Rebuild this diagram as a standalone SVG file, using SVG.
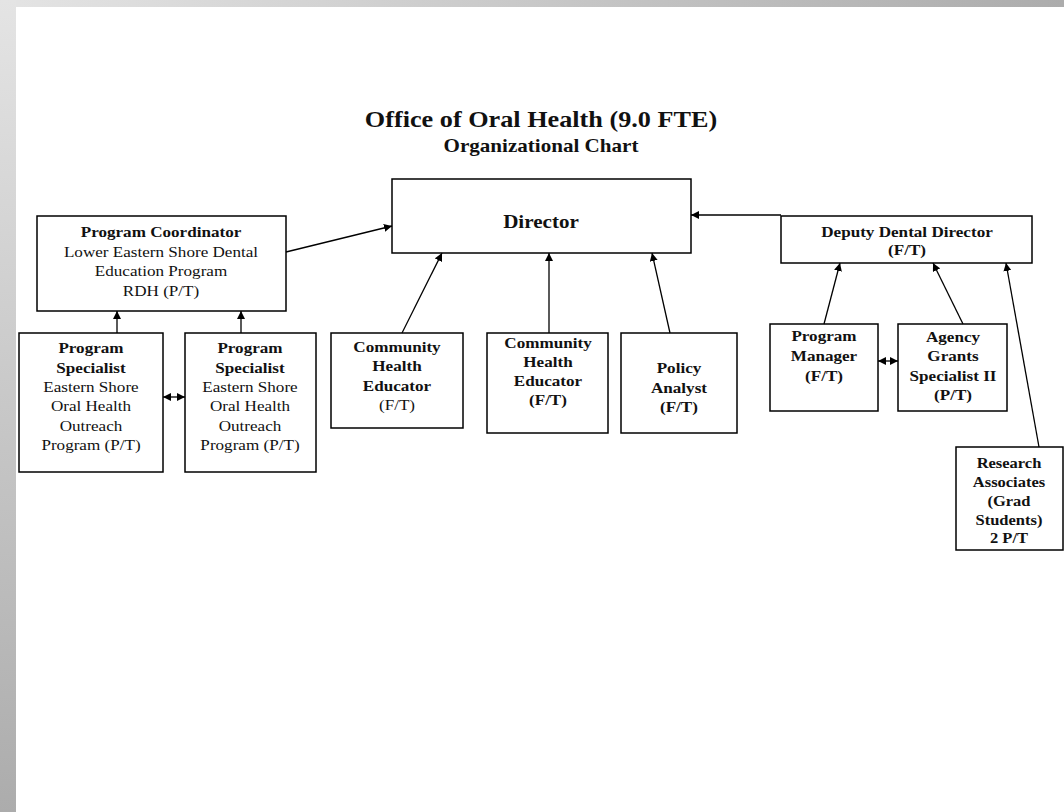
<svg xmlns="http://www.w3.org/2000/svg" width="1064" height="812" viewBox="0 0 1064 812">
<defs>
<linearGradient id="gTop" x1="0" y1="0" x2="1" y2="0"><stop offset="0" stop-color="#e4e4e4"/><stop offset="1" stop-color="#acacac"/></linearGradient>
<linearGradient id="gLeft" x1="0" y1="0" x2="0" y2="1"><stop offset="0" stop-color="#e4e4e4"/><stop offset="1" stop-color="#acacac"/></linearGradient>
<marker id="ah" viewBox="0 0 10 10" refX="10" refY="5" markerWidth="8" markerHeight="8" markerUnits="userSpaceOnUse" orient="auto-start-reverse"><path d="M0,0 L10,5 L0,10 z" fill="#000"/></marker>
<style>
.box{fill:#fff;stroke:#000;stroke-width:1.5}
.t{font-family:"Liberation Serif","Times New Roman",serif;font-size:15px;fill:#111;text-anchor:middle}
.b{font-weight:bold}
.c{stroke:#000;stroke-width:1.3;fill:none}
</style>
</defs>
<rect x="0" y="0" width="1064" height="812" fill="#fff"/>
<rect x="0" y="0" width="1064" height="7" fill="url(#gTop)"/>
<rect x="0" y="0" width="16" height="812" fill="url(#gLeft)"/>

<g id="title" transform="matrix(1.14 0 0 1 -75.74 0)">
<text class="t b" x="541" y="127" style="font-size:23px">Office of Oral Health (9.0 FTE)</text>
<text class="t b" x="541" y="152" style="font-size:18.5px">Organizational Chart</text>
</g>

<g id="director">
<rect class="box" x="392" y="179" width="299" height="74"/>
<g transform="matrix(1.14 0 0 1 -75.74 0)">
<text class="t b" x="541" y="228" style="font-size:18.5px">Director</text>
</g>
</g>

<g id="coordinator">
<rect class="box" x="37" y="216" width="249" height="95"/>
<g transform="matrix(1.14 0 0 1 -22.54 0)">
<text class="t b" x="161" y="237">Program Coordinator</text>
<text class="t" x="161" y="257">Lower Eastern Shore Dental</text>
<text class="t" x="161" y="276">Education Program</text>
<text class="t" x="161" y="296">RDH (P/T)</text>
</g>
</g>

<g id="specialist1">
<rect class="box" x="19" y="333" width="144" height="139"/>
<g transform="matrix(1.14 0 0 1 -12.74 0)">
<text class="t b" x="91" y="353">Program</text>
<text class="t b" x="91" y="373">Specialist</text>
<text class="t" x="91" y="392">Eastern Shore</text>
<text class="t" x="91" y="411">Oral Health</text>
<text class="t" x="91" y="431">Outreach</text>
<text class="t" x="91" y="450">Program (P/T)</text>
</g>
</g>

<g id="specialist2">
<rect class="box" x="185" y="333" width="131" height="139"/>
<g transform="matrix(1.14 0 0 1 -35 0)">
<text class="t b" x="250" y="353">Program</text>
<text class="t b" x="250" y="373">Specialist</text>
<text class="t" x="250" y="392">Eastern Shore</text>
<text class="t" x="250" y="411">Oral Health</text>
<text class="t" x="250" y="431">Outreach</text>
<text class="t" x="250" y="450">Program (P/T)</text>
</g>
</g>

<g id="che1">
<rect class="box" x="331" y="333" width="132" height="95"/>
<g transform="matrix(1.14 0 0 1 -55.58 0)">
<text class="t b" x="397" y="352">Community</text>
<text class="t b" x="397" y="371">Health</text>
<text class="t b" x="397" y="391">Educator</text>
<text class="t" x="397" y="410">(F/T)</text>
</g>
</g>

<g id="che2">
<rect class="box" x="487" y="333" width="121" height="100"/>
<g transform="matrix(1.14 0 0 1 -76.72 0)">
<text class="t b" x="548" y="348">Community</text>
<text class="t b" x="548" y="367">Health</text>
<text class="t b" x="548" y="386">Educator</text>
<text class="t b" x="548" y="405">(F/T)</text>
</g>
</g>

<g id="policy">
<rect class="box" x="621" y="333" width="116" height="100"/>
<g transform="matrix(1.14 0 0 1 -95.06 0)">
<text class="t b" x="679" y="373">Policy</text>
<text class="t b" x="679" y="393">Analyst</text>
<text class="t b" x="679" y="412">(F/T)</text>
</g>
</g>

<g id="deputy">
<rect class="box" x="781" y="216" width="251" height="47"/>
<g transform="matrix(1.14 0 0 1 -126.98 0)">
<text class="t b" x="907" y="237">Deputy Dental Director</text>
<text class="t b" x="907" y="255">(F/T)</text>
</g>
</g>

<g id="manager">
<rect class="box" x="770" y="324" width="108" height="87"/>
<g transform="matrix(1.14 0 0 1 -115.36 0)">
<text class="t b" x="824" y="341">Program</text>
<text class="t b" x="824" y="361">Manager</text>
<text class="t b" x="824" y="381">(F/T)</text>
</g>
</g>

<g id="grants">
<rect class="box" x="898" y="324" width="109" height="87"/>
<g transform="matrix(1.14 0 0 1 -133.42 0)">
<text class="t b" x="953" y="342">Agency</text>
<text class="t b" x="953" y="361">Grants</text>
<text class="t b" x="953" y="381">Specialist II</text>
<text class="t b" x="953" y="400">(P/T)</text>
</g>
</g>

<g id="research">
<rect class="box" x="956" y="447" width="107" height="103"/>
<g transform="matrix(1.1 0 0 1 -100.9 0)">
<text class="t b" x="1009" y="468">Research</text>
<text class="t b" x="1009" y="487">Associates</text>
<text class="t b" x="1009" y="506">(Grad</text>
<text class="t b" x="1009" y="525">Students)</text>
<text class="t b" x="1009" y="543">2 P/T</text>
</g>
</g>

<g id="connectors">
<line class="c" x1="286" y1="252" x2="392" y2="226" marker-end="url(#ah)"/>
<line class="c" x1="691" y1="215" x2="781" y2="215" marker-start="url(#ah)"/>
<line class="c" x1="402" y1="333" x2="442" y2="253" marker-end="url(#ah)"/>
<line class="c" x1="549" y1="333" x2="549" y2="253" marker-end="url(#ah)"/>
<line class="c" x1="670" y1="333" x2="652" y2="253" marker-end="url(#ah)"/>
<line class="c" x1="117" y1="333" x2="117" y2="311" marker-end="url(#ah)"/>
<line class="c" x1="241" y1="333" x2="241" y2="311" marker-end="url(#ah)"/>
<line class="c" x1="163" y1="397" x2="185" y2="397" marker-start="url(#ah)" marker-end="url(#ah)"/>
<line class="c" x1="824" y1="324" x2="840" y2="263" marker-end="url(#ah)"/>
<line class="c" x1="963" y1="324" x2="933" y2="263" marker-end="url(#ah)"/>
<line class="c" x1="1039" y1="447" x2="1006" y2="263" marker-end="url(#ah)"/>
<line class="c" x1="878" y1="361" x2="898" y2="361" marker-start="url(#ah)" marker-end="url(#ah)"/>
</g>
</svg>
